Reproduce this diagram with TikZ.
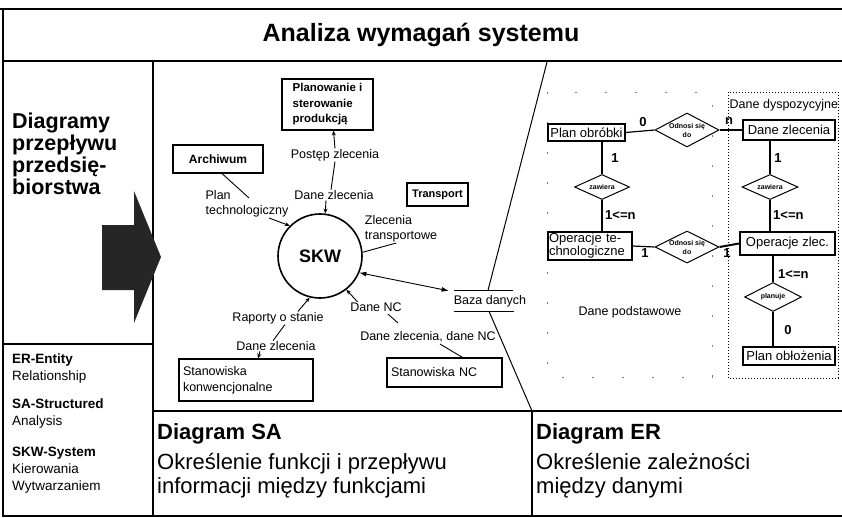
\documentclass[tikz,border=0pt]{standalone}
\usepackage{fontspec}
\setmainfont{Liberation Sans}
\usetikzlibrary{shapes.geometric,arrows.meta,calc}
\newcommand\myfs[2]{\fontsize{#1}{#2}\selectfont}
\begin{document}
\begin{tikzpicture}[x=1pt,y=-1pt,
  frame/.style={line width=1.4pt},
  conn/.style={line width=0.9pt},
  arr/.style={conn,-{Stealth[length=5pt,width=4pt]}},
  lbl/.style={font=\myfs{12.5}{15}, inner sep=0.5pt, align=left},
  sabox/.style={draw, line width=1.1pt, inner sep=2pt},
  erbox/.style={draw, line width=1.1pt, inner sep=0pt, font=\myfs{13}{13}},
  erl/.style={line width=1.2pt},
  rel/.style={diamond, draw, line width=1pt, inner sep=0pt, shape aspect=2, font=\bfseries\myfs{7}{9}, align=center},
  card/.style={font=\bfseries\myfs{13}{14}, inner sep=0pt},
]
\useasboundingbox (0,0) rectangle (842,517);
% frame
\draw[frame] (0,9) -- (842,9);
\draw[frame] (3,9) -- (3,516) -- (842,516);
\draw[frame] (3,61) -- (842,61);
\draw[frame] (153,61) -- (153,516);
\draw[frame] (3,344) -- (153,344);
\draw[frame] (153,411) -- (842,411);
\draw[frame] (532,411) -- (532,516);
\draw[line width=1pt] (547,62) -- (485,302) -- (532,411);

% title
\node[font=\bfseries\myfs{25}{28}] (title) at (421,35) {Analiza wymagań systemu};

% left column
\node[anchor=north west, align=left, font=\bfseries\myfs{21.5}{22}, inner sep=0] (dpp) at (12,113) {Diagramy\\przepływu\\przedsię-\\biorstwa};
\fill[black!85] (102,225) -- (134,225) -- (134,191) -- (161,257) -- (134,323) -- (134,290) -- (102,290) -- cycle;
\node[anchor=north west, align=left, inner sep=0, font=\myfs{13.5}{17}] (ergr) at (12,354) {\textbf{ER-Entity}\\Relationship};
\node[anchor=north west, align=left, inner sep=0, font=\myfs{13.5}{17}] (sagr) at (12,399) {\textbf{SA-Structured}\\Analysis};
\node[anchor=north west, align=left, inner sep=0, font=\myfs{13.5}{17}] (skwgr) at (12,447) {\textbf{SKW-System}\\Kierowania\\Wytwarzaniem};

% bottom texts
\node[anchor=north west, inner sep=0, font=\bfseries\myfs{22}{24}] (dsa) at (157,423) {Diagram SA};
\node[anchor=north west, align=left, inner sep=0, font=\myfs{22}{24}] (dsat) at (157,453) {Określenie funkcji i przepływu\\informacji między funkcjami};
\node[anchor=north west, inner sep=0, font=\bfseries\myfs{22}{24}] (der) at (536,423) {Diagram ER};
\node[anchor=north west, align=left, inner sep=0, font=\myfs{22}{24}] (dert) at (536,453) {Określenie zależności\\między danymi};

% SA diagram
\node[sabox, minimum width=91, minimum height=51, align=left, font=\bfseries\myfs{11.5}{15.5}] (plan) at (327.5,104.5) {Planowanie i\\sterowanie\\produkcją};
\node[sabox, minimum width=90, minimum height=28, font=\bfseries\myfs{12}{14}] (arch) at (218,159) {Archiwum};
\node[sabox, minimum width=61, minimum height=23, font=\bfseries\myfs{11}{13}] (trans) at (437.5,194.5) {Transport};
\node[circle, draw, line width=1.6pt, minimum size=84, inner sep=0, font=\bfseries\myfs{18}{20}] (skw) at (320,256) {SKW};
\node[sabox, minimum width=134, minimum height=42, text width=126, align=left, inner xsep=4, font=\myfs{12.5}{16}] (stk) at (246,380) {Stanowiska\\konwencjonalne};
\node[sabox, minimum width=115, minimum height=29, text width=107, inner xsep=4, align=left, font=\myfs{12.5}{15}] (stnc) at (444.5,372.5) {Stanowiska NC};
\node[lbl, fill=white, minimum height=20, inner sep=0] (baza) at (490,301) {Baza danych};
\draw[conn] (baza.north west) -- ($(baza.north east)+(-13,0)$);
\draw[conn] (baza.south west) -- ($(baza.south east)+(-12,0)$);

\node[lbl] (post) at (335,155) {Postęp zlecenia};
\node[lbl] (dz1) at (334,195) {Dane zlecenia};
\node[lbl] (ptech) at (247,204) {Plan\\technologiczny};
\node[lbl] (ztr) at (401,229) {Zlecenia\\transportowe};
\node[lbl] (dnc) at (376,307) {Dane NC};
\node[lbl] (dzdnc) at (428,337) {Dane zlecenia, dane NC};
\node[lbl] (rap) at (278,318) {Raporty o stanie};
\node[lbl] (dz2) at (276,346) {Dane zlecenia};

\draw[arr] (post.north) -- ($(plan.south)+(6,0)$);
\draw[conn] (post.south) -- ($(dz1.north)+(-3,0)$);
\draw[arr] ($(dz1.south)+(-8,0)$) -- (skw.83);
\draw[conn] ($(arch.south)+(4,0)$) -- ($(ptech.north)+(2,8)$);
\draw[arr] ($(ptech.south)+(22,0)$) -- (skw.135);
\draw[conn] (skw.5) -- ($(ztr.south west)+(32,0)$);
\draw[conn, {Latex[length=7pt,width=5pt]}-{Latex[length=7pt,width=5pt]}] (skw.-23) -- ($(baza.north west)+(-5,0)$);
\draw[arr] ($(dnc.north west)+(8,0)$) -- (skw.-52);
\draw[conn] ($(dnc.south)+(12,2)$) -- ($(dzdnc.north)+(-30,-8)$);
\draw[conn] ($(dzdnc.south)+(12,1)$) -- ($(stnc.north)+(18,0)$);
\draw[arr] ($(rap.north)+(20,0)$) -- (skw.-104);
\draw[conn] ($(rap.south)+(7,0)$) -- ($(dz2.north)+(-3,0)$);
\draw[arr] ($(dz2.south)+(-16,0)$) -- ($(stk.north)+(12,0)$);

% ER diagram
\draw[gray, line width=0.8pt, dash pattern=on 2pt off 28pt] (547,92) rectangle (712,377);
\draw[dotted, line width=1pt] (728,92) rectangle (838,378);
\node[lbl, anchor=west] (ddysp) at (729,105) {Dane dyspozycyjne};
\node[lbl] (dpod) at (630,312) {Dane podstawowe};

\node[erbox, minimum width=77, minimum height=17] (pob) at (586.5,132.5) {Plan obróbki};
\node[erbox, minimum width=92, minimum height=20] (dzl) at (789,130) {Dane zlecenia};
\node[erbox, minimum width=84, minimum height=28, align=left, text width=82] (otech) at (590,246) {Operacje te-\\chnologiczne};
\node[erbox, line width=2pt, minimum width=95, minimum height=23] (ozl) at (787.5,243.5) {Operacje zlec.};
\node[erbox, minimum width=92, minimum height=18] (pobl) at (789,356) {Plan obłożenia};

\node[rel, minimum width=60, minimum height=34] (r1) at (687,130) {Odnosi się\\do};
\node[rel, minimum width=55, minimum height=25] (r2) at (602,187) {zawiera};
\node[rel, minimum width=60, minimum height=30] (r3) at (687,247) {Odnosi się\\do};
\node[rel, minimum width=56, minimum height=25] (r4) at (770,187) {zawiera};
\node[rel, minimum width=57, minimum height=29] (r5) at (773,297) {planuje};

\draw[erl] (pob.east) -- (r1.west);
\draw[erl] (r1.east) -- (dzl.west);
\draw[erl] (r2.north) -- (r2.north |- pob.south);
\draw[erl] (r2.south) -- (r2.south |- otech.north);
\draw[erl] (otech.east) -- (r3.west);
\draw[erl, line width=2pt] (r3.east) -- (ozl.west);
\draw[erl] (r4.north) -- (r4.north |- dzl.south);
\draw[erl] (r4.south) -- (r4.south |- ozl.north);
\draw[erl] (r5.north) -- (r5.north |- ozl.south);
\draw[erl] (r5.south) -- (r5.south |- pobl.north);

\node[card] (c1) at (643,122) {0};
\node[card] (c2) at (729,121) {n};
\node[card] (c3) at (615,158) {1};
\node[card, anchor=west] (c4) at (605,215) {1<=n};
\node[card] (c5) at (645,253) {1};
\node[card] (c6) at (727,253) {1};
\node[card] (c7) at (778,158) {1};
\node[card, anchor=west] (c8) at (773,215) {1<=n};
\node[card, anchor=west] (c9) at (778,274) {1<=n};
\node[card] (c10) at (788,330) {0};
\end{tikzpicture}
\end{document}
